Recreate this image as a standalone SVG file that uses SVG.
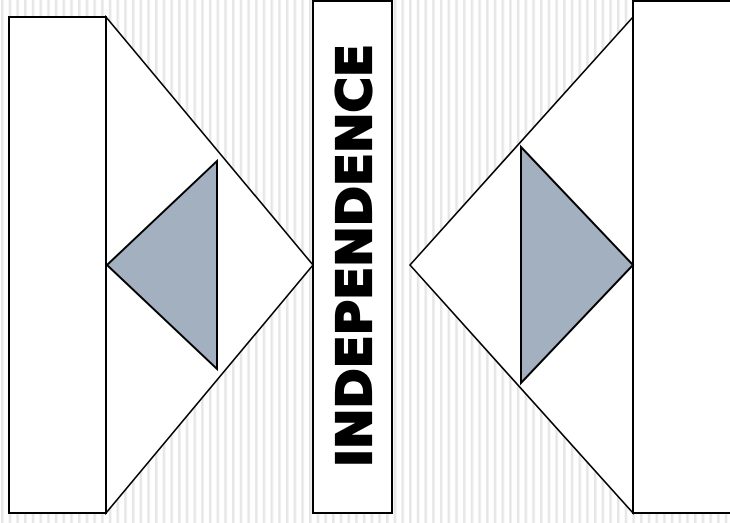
<svg xmlns="http://www.w3.org/2000/svg" width="730" height="523" viewBox="0 0 730 523">
<style>
.box{fill:#fff;stroke:#000;stroke-width:2}
.tri{fill:#fff;stroke:#000;stroke-width:1.6}
.gray{fill:#a2b0bf;stroke:#000;stroke-width:2}
.lbl{font-family:"DejaVu Sans",Verdana,sans-serif;font-weight:bold;font-size:48px;fill:#000;stroke:#000;stroke-width:2.2;stroke-linejoin:miter}
</style>
<defs>
<pattern id="stripes" x="1" y="0" width="7.7" height="10" patternUnits="userSpaceOnUse">
<rect x="0" y="0" width="7.7" height="10" fill="#fff"/>
<rect x="0" y="0" width="2.5" height="10" fill="#e6e6e6"/>
</pattern>
</defs>
<rect x="0" y="0" width="730" height="523" fill="url(#stripes)"/>
<g id="left-node">
<polygon class="tri" points="106,17 313,265 106,513"/>
<rect class="box" x="9" y="17" width="97" height="496"/>
<polygon class="gray" points="107,265 217,161 217,369"/>
</g>
<g id="center-node">
<rect class="box" x="313" y="1" width="79" height="512"/>
<text class="lbl" transform="translate(371,467) rotate(-90)" textLength="423" lengthAdjust="spacingAndGlyphs">INDEPENDENCE</text>
</g>
<g id="right-node">
<polygon class="tri" points="633,17 410,265 633,513"/>
<rect class="box" x="633" y="1" width="100" height="512"/>
<polygon class="gray" points="521,147 633,265 521,383"/>
</g>
<g id="connectors"></g>
</svg>
